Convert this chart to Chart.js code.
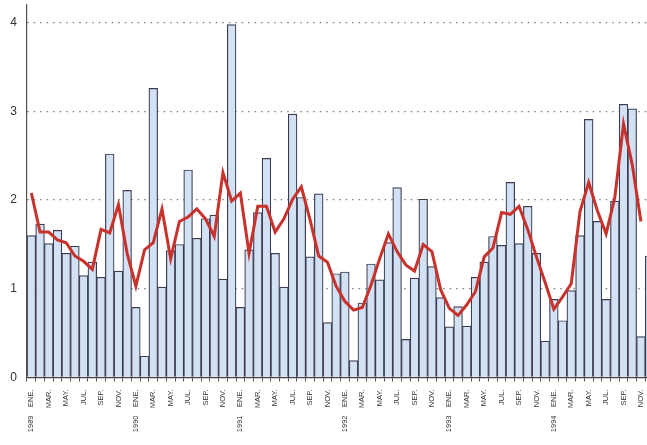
<!DOCTYPE html>
<html>
<head>
<meta charset="utf-8">
<script src="https://cdn.jsdelivr.net/npm/chart.js@4.4.1/dist/chart.umd.min.js"></script>
<style>
  html, body { margin: 0; padding: 0; background: #fff; overflow: hidden; }
  canvas { display: block; }
</style>
</head>
<body>
<canvas id="chart" width="654" height="445"></canvas>
<script>
// years shown under each ENE. tick, month ticks every other month
const years = ['1989', '1990', '1991', '1992', '1993', '1994'];
const monthTicks = ['ENE.', '', 'MAR.', '', 'MAY.', '', 'JUL.', '', 'SEP.', '', 'NOV.', ''];

// monthly values, ENE. 1989 .. DIC. 1994
const barValues = [
  1.60, 1.73, 1.51, 1.66, 1.40, 1.48, 1.15, 1.30, 1.13, 2.52, 1.20, 2.11,
  0.79, 0.24, 3.26, 1.02, 1.43, 1.50, 2.34, 1.57, 1.79, 1.83, 1.11, 3.98,
  0.79, 1.44, 1.86, 2.47, 1.40, 1.02, 2.97, 2.03, 1.36, 2.07, 0.62, 1.17,
  1.19, 0.19, 0.84, 1.28, 1.10, 1.52, 2.14, 0.43, 1.12, 2.01, 1.25, 0.90,
  0.57, 0.80, 0.58, 1.13, 1.30, 1.59, 1.49, 2.20, 1.51, 1.93, 1.40, 0.41,
  0.88, 0.64, 0.98, 1.60, 2.91, 1.76, 0.88, 1.99, 3.08, 3.03, 0.46, 1.37
];

// red trend line
const lineValues = [
  2.08, 1.64, 1.64, 1.55, 1.52, 1.37, 1.31, 1.22, 1.67, 1.63, 1.95, 1.40,
  1.03, 1.44, 1.52, 1.90, 1.34, 1.76, 1.81, 1.90, 1.79, 1.59, 2.31, 1.99,
  2.08, 1.40, 1.93, 1.93, 1.64, 1.79, 2.01, 2.15, 1.78, 1.37, 1.30, 1.03,
  0.86, 0.76, 0.79, 1.04, 1.34, 1.62, 1.42, 1.27, 1.20, 1.50, 1.42, 0.99,
  0.78, 0.70, 0.82, 0.97, 1.36, 1.46, 1.86, 1.84, 1.93, 1.67, 1.36, 1.07,
  0.77, 0.91, 1.06, 1.87, 2.20, 1.88, 1.62, 2.03, 2.86, 2.40, 1.76, null
];

const monthLabels = years.flatMap(() => monthTicks);
const yearLabels = years.flatMap(y => [y, ...Array(11).fill('')]);

const smallFont = { family: '"Liberation Sans Narrow", "Arial Narrow", "Liberation Sans", Arial, sans-serif', size: 7.5 };

new Chart(document.getElementById('chart'), {
  data: {
    labels: monthLabels,
    datasets: [
      {
        type: 'line',
        data: lineValues,
        borderColor: '#c8322c',
        borderWidth: 3,
        pointRadius: 0,
        tension: 0,
        order: 1
      },
      {
        type: 'bar',
        data: barValues,
        backgroundColor: '#d3e1f4',
        borderColor: '#3d3d52',
        borderWidth: 1.2,
        barPercentage: 1,
        categoryPercentage: 1,
        order: 2
      }
    ]
  },
  options: {
    responsive: false,
    animation: false,
    layout: { padding: { top: 5, left: 0, right: 0, bottom: 0 } },
    plugins: { legend: { display: false }, tooltip: { enabled: false } },
    scales: {
      x: {
        weight: 0,
        grid: { drawOnChartArea: false, tickLength: 4, color: '#555', lineWidth: 1 },
        border: { color: '#444', width: 1.2 },
        ticks: { autoSkip: false, maxRotation: 90, minRotation: 90, padding: 8, color: '#333', font: smallFont },
        afterFit: s => { s.height = 30; s.paddingLeft = 0; s.paddingRight = 0; }
      },
      x2: {
        type: 'category',
        labels: yearLabels,
        position: 'bottom',
        weight: 1,
        offset: true,
        grid: { display: false },
        border: { display: false },
        ticks: { autoSkip: false, maxRotation: 90, minRotation: 90, padding: 0, color: '#333', font: smallFont },
        afterFit: s => { s.height = 37.5; s.paddingLeft = 0; s.paddingRight = 0; }
      },
      y: {
        min: 0,
        max: 4.2,
        ticks: { stepSize: 1, padding: 10, color: '#333', font: { family: '"Liberation Sans", Arial, sans-serif', size: 12 } },
        afterBuildTicks: s => { s.ticks = s.ticks.filter(t => Number.isInteger(t.value)); },
        afterFit: s => { s.width = 27; s.paddingTop = 0; s.paddingBottom = 0; },
        grid: {
          drawTicks: false,
          lineWidth: 1.3,
          color: ctx => (ctx.tick && ctx.tick.value === 0) ? 'rgba(0,0,0,0)' : '#7a7a7a'
        },
        border: { color: '#5a4d4a', width: 1.2, dash: [1.5, 5] }
      }
    }
  }
});
</script>
</body>
</html>
